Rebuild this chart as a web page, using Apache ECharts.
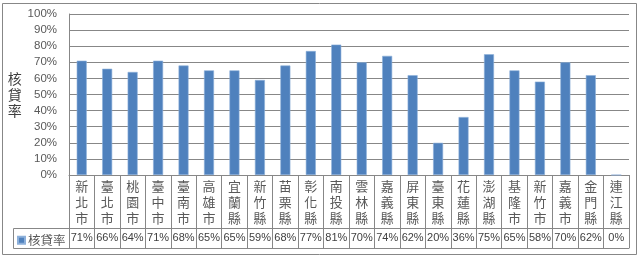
<!DOCTYPE html>
<html><head><meta charset="utf-8">
<script src="https://cdn.jsdelivr.net/npm/echarts@6/dist/echarts.min.js"></script>
<style>html,body{margin:0;padding:0;background:#fff}#c{width:640px;height:258px}</style>
</head><body><div id="c"></div>
<script>
const categories = ['新北市','臺北市','桃園市','臺中市','臺南市','高雄市','宜蘭縣','新竹縣','苗栗縣','彰化縣','南投縣','雲林縣','嘉義縣','屏東縣','臺東縣','花蓮縣','澎湖縣','基隆市','新竹市','嘉義市','金門縣','連江縣'];
const values = [71,66,64,71,68,65,65,59,68,77,81,70,74,62,20,36,75,65,58,70,62,0];
const seriesName = '核貸率';
const yTicks = {min:0, max:100, interval:10};

const grey = '#878787';
const txt = '#595959';
const latin = '"Liberation Sans", "Noto Sans CJK TC", sans-serif';
const cjk = '"Noto Sans CJK TC", sans-serif';

const chart = echarts.init(document.getElementById('c'));
chart.setOption({
  animation:false,
  grid:{left:69,right:11,top:14,bottom:83},
  legend:{show:true,left:12,top:229,icon:'rect',itemWidth:7,itemHeight:7,itemGap:0,
    textStyle:{fontFamily:cjk,fontSize:12.5,color:txt,padding:[0,0,0,-2]},data:[seriesName]},
  xAxis:[
    {type:'category',data:categories,gridIndex:0,position:'bottom',
     axisLine:{show:true,lineStyle:{color:grey,width:1}},
     axisTick:{show:true,interval:0,length:73,lineStyle:{color:grey}},
     axisLabel:{interval:0,margin:3,fontFamily:cjk,fontSize:13,lineHeight:16,color:txt,
       formatter:v=>v.split('').join('\n')}},
    {type:'category',data:values.map(v=>v+'%'),gridIndex:0,position:'bottom',offset:53,
     axisLine:{show:true,lineStyle:{color:grey,width:1}},
     axisTick:{show:false},
     axisLabel:{interval:0,margin:4,fontFamily:latin,fontSize:11,color:'#404040'}},
    {type:'category',data:categories,gridIndex:0,position:'bottom',offset:73,
     axisLine:{show:true,lineStyle:{color:grey,width:1}},
     axisTick:{show:false},axisLabel:{show:false}}
  ],
  yAxis:{type:'value',min:yTicks.min,max:yTicks.max,interval:yTicks.interval,
    name:'核\n貸\n率',nameLocation:'middle',nameRotate:0,nameGap:46,
    nameTextStyle:{fontFamily:cjk,fontSize:14,lineHeight:16,color:'#404040',padding:[10,0,0,0]},
    axisLine:{show:true,lineStyle:{color:grey}},axisTick:{show:false},
    axisLabel:{formatter:'{value}%',fontFamily:latin,fontSize:11.5,color:txt,margin:12},
    splitLine:{lineStyle:{color:grey,width:1}}},
  series:[{name:seriesName,type:'bar',data:values,xAxisIndex:0,barWidth:10,
    itemStyle:{color:'#4F81BD',borderColor:'#8DB0DA',borderWidth:0.6}}],
  graphic:[
    {type:'rect',shape:{x:2.5,y:3.5,width:634,height:251},style:{fill:null,stroke:grey,lineWidth:1},silent:true},
    {type:'polyline',shape:{points:[[69,228.5],[13.5,228.5],[13.5,248.5],[69,248.5]]},style:{fill:null,stroke:grey,lineWidth:1},silent:true}
  ]
});
</script></body></html>
